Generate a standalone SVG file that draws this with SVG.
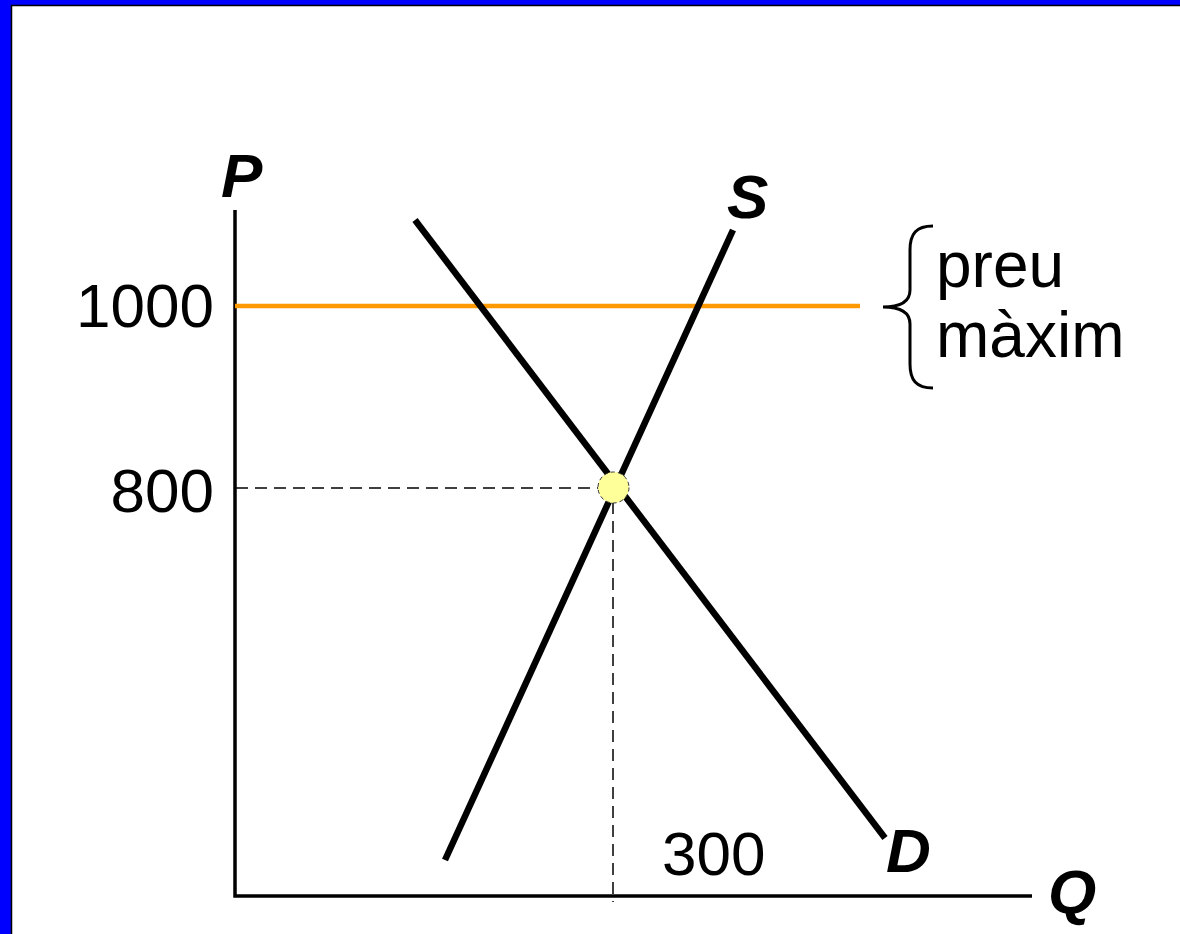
<svg xmlns="http://www.w3.org/2000/svg" width="1180" height="934" viewBox="0 0 1180 934">
<style>
.lbl{font-family:"Liberation Sans",Arial,sans-serif;font-size:62px;fill:#000}
.big{font-size:64px}
.it{font-weight:bold;font-style:italic}
.curve{stroke:#000;stroke-width:6.5;fill:none}
.axis{stroke:#000;stroke-width:3.5;fill:none}
.dash{stroke:#000;stroke-width:1.5;stroke-dasharray:12,7;fill:none}
</style>
<rect x="0" y="0" width="1180" height="934" fill="#0000FF"/>
<rect x="11.5" y="5.5" width="1180" height="940" fill="#FFFFFF" stroke="#000" stroke-width="1.5"/>
<g id="connectors">
<line class="dash" x1="236" y1="488" x2="600" y2="488"/>
<line class="dash" x1="613" y1="502" x2="613" y2="902"/>
<polyline class="axis" points="235,210 235,896 1032,896"/>
<line x1="235" y1="306" x2="860" y2="306" stroke="#FF9900" stroke-width="4.5"/>
<line id="D-curve" class="curve" x1="415" y1="220" x2="885" y2="838"/>
<line id="S-curve" class="curve" x1="445" y1="860" x2="733" y2="230"/>
<path d="M933,226 C916,226 910,234 910,250 L910,290 C910,302 900,307 883,307 C900,307 910,312 910,324 L910,364 C910,380 916,388 933,388" stroke="#000" stroke-width="3" fill="none"/>
</g>
<g id="equilibrium">
<circle cx="613.5" cy="487.5" r="15.5" fill="#FFFF99" stroke="#333" stroke-width="1" stroke-dasharray="4,3"/>
</g>
<g id="labels">
<text class="lbl it" x="221" y="197">P</text>
<text class="lbl it" x="727" y="218">S</text>
<text class="lbl it" x="886" y="872">D</text>
<text class="lbl it" x="1048" y="913">Q</text>
<text class="lbl" x="214" y="327" text-anchor="end">1000</text>
<text class="lbl" x="214" y="512" text-anchor="end">800</text>
<text class="lbl" x="662" y="875">300</text>
<text class="lbl big" x="936" y="287">preu</text>
<text class="lbl big" x="936" y="357">màxim</text>
</g>
</svg>
